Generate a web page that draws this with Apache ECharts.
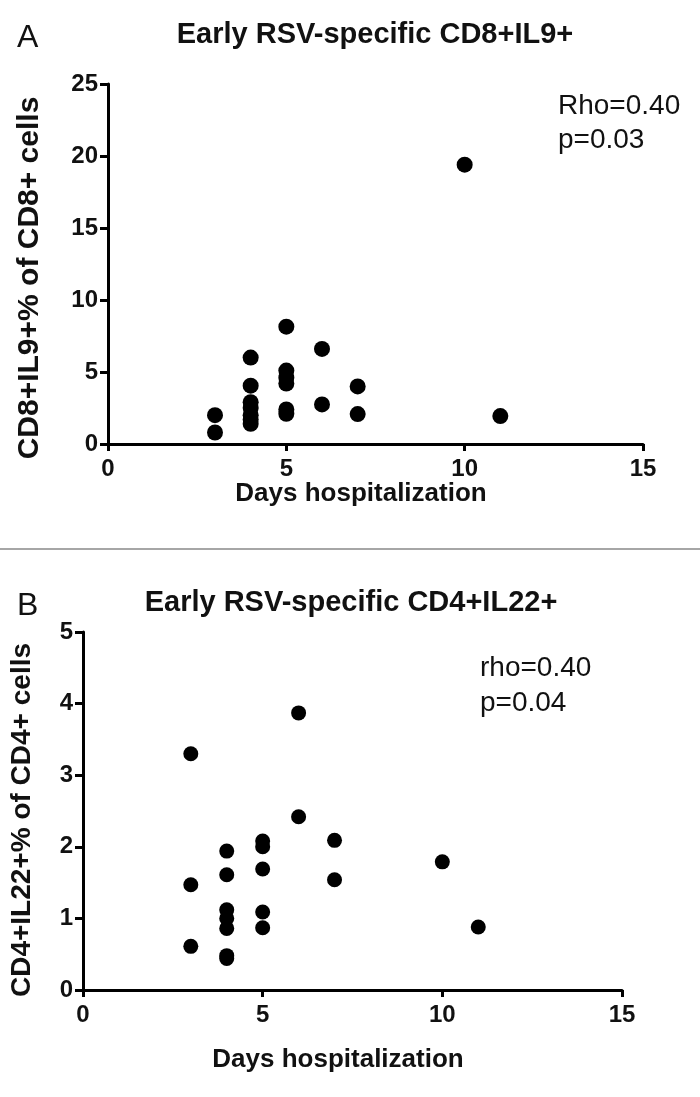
<!DOCTYPE html>
<html><head><meta charset="utf-8">
<script src="https://cdn.jsdelivr.net/npm/echarts@6/dist/echarts.min.js"></script>
<style>html,body{margin:0;padding:0;background:#fff}#c{width:700px;height:1097px}</style>
</head><body><div id="c"></div>
<script>
var daysA = [3,3, 4,4,4,4,4,4,4, 5,5,5,5,5,5, 6,6, 7,7, 10, 11];
var valsA = [2.0,0.8, 6.0,4.05,2.9,2.5,2.0,1.7,1.4, 8.15,5.1,4.6,4.2,2.4,2.1, 6.6,2.75, 4.0,2.08, 19.4, 1.94];
var daysB = [3,3,3, 4,4,4,4,4,4,4, 5,5,5,5,5, 6,6, 7,7, 10, 11];
var valsB = [3.3,1.47,0.61, 1.94,1.61,1.12,1.0,0.86,0.48,0.44, 2.08,2.0,1.69,1.09,0.87, 3.87,2.42, 2.09,1.54, 1.79,0.88];
var titleA = 'Early RSV-specific CD8+IL9+';
var titleB = 'Early RSV-specific CD4+IL22+';
var yNameA = 'CD8+IL9+% of CD8+ cells';
var yNameB = 'CD4+IL22+% of CD4+ cells';
var xName = 'Days hospitalization';
var statsA = ['Rho=0.40', 'p=0.03'];
var statsB = ['rho=0.40', 'p=0.04'];

var FONT = '"Liberation Sans", Arial, sans-serif';
function pairs(xs, ys){ return xs.map(function(x,i){ return [x, ys[i]]; }); }
function xAx(idx){
  return {type:'value', gridIndex:idx, min:0, max:15, interval:5,
    axisLine:{lineStyle:{color:'#000', width:3}},
    axisTick:{show:true, length:7, lineStyle:{color:'#000', width:3}},
    axisLabel:{fontFamily:FONT, fontWeight:'bold', fontSize:24, color:'#111', margin:13},
    splitLine:{show:false}};
}
function yAx(idx, max, interval){
  return {type:'value', gridIndex:idx, min:0, max:max, interval:interval,
    axisLine:{show:true, lineStyle:{color:'#000', width:3}},
    axisTick:{show:true, length:8, lineStyle:{color:'#000', width:3}},
    axisLabel:{fontFamily:FONT, fontWeight:'bold', fontSize:24, color:'#111', margin:10},
    splitLine:{show:false}};
}
function txt(s, x, y, size, bold, rot){
  return {type:'text', x:x, y:y, rotation:rot||0,
    style:{text:s, fontFamily:FONT, fontWeight:bold?'bold':'normal', fontSize:size, fill:'#111', align:'center', verticalAlign:'middle'}};
}
var chart = echarts.init(document.getElementById('c'), null, {renderer:'canvas'});
chart.setOption({
  backgroundColor:'#fff',
  animation:false,
  title:[
    {text:'A', left:12, top:17, textStyle:{fontFamily:FONT, fontWeight:'normal', fontSize:32, color:'#111'}},
    {text:titleA, left:370, top:15, textAlign:'center', textStyle:{fontFamily:FONT, fontWeight:'bold', fontSize:29, color:'#111'}},
    {text:'B', left:12, top:585, textStyle:{fontFamily:FONT, fontWeight:'normal', fontSize:32, color:'#111'}},
    {text:titleB, left:346, top:583, textAlign:'center', textStyle:{fontFamily:FONT, fontWeight:'bold', fontSize:29, color:'#111'}},
    {text:statsA[0], left:553, top:87, textStyle:{fontFamily:FONT, fontWeight:'normal', fontSize:28, color:'#111'}},
    {text:statsA[1], left:553, top:121, textStyle:{fontFamily:FONT, fontWeight:'normal', fontSize:28, color:'#111'}},
    {text:statsB[0], left:475, top:649, textStyle:{fontFamily:FONT, fontWeight:'normal', fontSize:28, color:'#111'}},
    {text:statsB[1], left:475, top:684, textStyle:{fontFamily:FONT, fontWeight:'normal', fontSize:28, color:'#111'}}
  ],
  graphic:[
    {type:'line', shape:{x1:0, y1:549, x2:700, y2:549}, style:{stroke:'#888', lineWidth:1.5}},
    txt(yNameA, 30, 278, 30, true, Math.PI/2),
    txt(yNameB, 22, 820, 28, true, Math.PI/2),
    txt(xName, 361, 494, 26, true),
    txt(xName, 338, 1060, 26, true)
  ],
  grid:[
    {left:108, top:84, width:535, height:360},
    {left:83, top:632, width:539, height:358}
  ],
  xAxis:[xAx(0), xAx(1)],
  yAxis:[yAx(0, 25, 5), yAx(1, 5, 1)],
  series:[
    {type:'scatter', xAxisIndex:0, yAxisIndex:0, data:pairs(daysA, valsA), symbol:'circle', symbolSize:16, itemStyle:{color:'#000', opacity:1}},
    {type:'scatter', xAxisIndex:1, yAxisIndex:1, data:pairs(daysB, valsB), symbol:'circle', symbolSize:15, itemStyle:{color:'#000', opacity:1}}
  ]
});
</script></body></html>
